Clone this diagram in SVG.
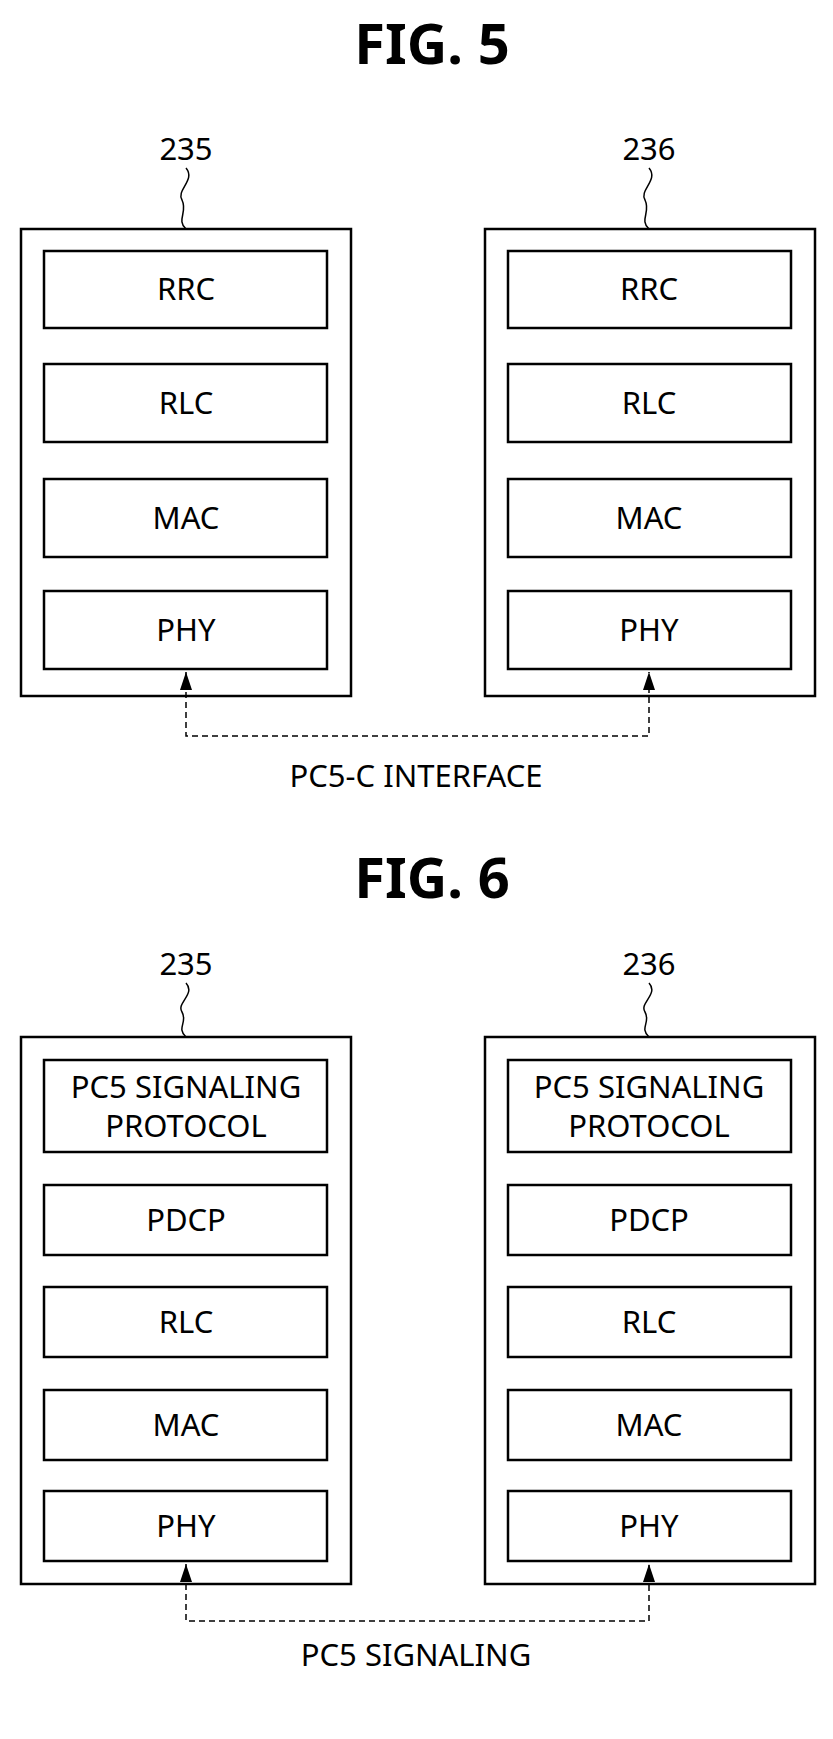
<svg xmlns="http://www.w3.org/2000/svg" width="833" height="1739" viewBox="0 0 833 1739">
<style>
.t{font-family:"Noto Sans","DejaVu Sans",sans-serif;font-size:31px;fill:#000;text-anchor:middle}
.ti{font-family:"Noto Sans","DejaVu Sans",sans-serif;font-size:56px;font-weight:bold;fill:#000;text-anchor:middle}
.b{fill:#fff;stroke:#000;stroke-width:2.5}
.d{fill:none;stroke:#000;stroke-width:1.5;stroke-dasharray:6,4}
.s{fill:none;stroke:#000;stroke-width:1.5}
</style>
<defs><marker id="a" markerWidth="18" markerHeight="12" refX="18" refY="6" orient="auto-start-reverse" markerUnits="userSpaceOnUse" viewBox="0 0 18 12"><path d="M0,0 L18,6 L0,12 Z" fill="#000"/></marker></defs>
<rect width="833" height="1739" fill="#fff"/>
<text class="ti" x="432" y="64">FIG. 5</text>
<g id="n235a">
<text class="t" x="186" y="160">235</text>
<path class="s" d="M186,168 C196,180 176,190 182,200 C188,212 176,220 186,229"/>
<rect class="b" x="21" y="229" width="330" height="467"/>
<rect class="b" x="44" y="251" width="283" height="77"/><text class="t" x="186" y="300">RRC</text>
<rect class="b" x="44" y="364" width="283" height="78"/><text class="t" x="186" y="414">RLC</text>
<rect class="b" x="44" y="479" width="283" height="78"/><text class="t" x="186" y="529">MAC</text>
<rect class="b" x="44" y="591" width="283" height="78"/><text class="t" x="186" y="641">PHY</text>
</g>
<g id="n236a">
<text class="t" x="649" y="160">236</text>
<path class="s" d="M649,168 C659,180 639,190 645,200 C651,212 639,220 649,229"/>
<rect class="b" x="485" y="229" width="330" height="467"/>
<rect class="b" x="508" y="251" width="283" height="77"/><text class="t" x="649" y="300">RRC</text>
<rect class="b" x="508" y="364" width="283" height="78"/><text class="t" x="649" y="414">RLC</text>
<rect class="b" x="508" y="479" width="283" height="78"/><text class="t" x="649" y="529">MAC</text>
<rect class="b" x="508" y="591" width="283" height="78"/><text class="t" x="649" y="641">PHY</text>
</g>
<g id="conn5">
<path class="d" d="M186,672 V736 H649 V672" marker-start="url(#a)" marker-end="url(#a)"/>
<text class="t" x="416" y="787">PC5-C INTERFACE</text>
</g>
<text class="ti" x="432" y="898">FIG. 6</text>
<g id="n235b">
<text class="t" x="186" y="975">235</text>
<path class="s" d="M186,983 C196,994 176,1003 182,1012 C188,1022 176,1028 186,1037"/>
<rect class="b" x="21" y="1037" width="330" height="547"/>
<rect class="b" x="44" y="1060" width="283" height="92"/><text class="t" x="186" y="1098">PC5 SIGNALING</text><text class="t" x="186" y="1137">PROTOCOL</text>
<rect class="b" x="44" y="1185" width="283" height="70"/><text class="t" x="186" y="1231">PDCP</text>
<rect class="b" x="44" y="1287" width="283" height="70"/><text class="t" x="186" y="1333">RLC</text>
<rect class="b" x="44" y="1390" width="283" height="70"/><text class="t" x="186" y="1436">MAC</text>
<rect class="b" x="44" y="1491" width="283" height="70"/><text class="t" x="186" y="1537">PHY</text>
</g>
<g id="n236b">
<text class="t" x="649" y="975">236</text>
<path class="s" d="M649,983 C659,994 639,1003 645,1012 C651,1022 639,1028 649,1037"/>
<rect class="b" x="485" y="1037" width="330" height="547"/>
<rect class="b" x="508" y="1060" width="283" height="92"/><text class="t" x="649" y="1098">PC5 SIGNALING</text><text class="t" x="649" y="1137">PROTOCOL</text>
<rect class="b" x="508" y="1185" width="283" height="70"/><text class="t" x="649" y="1231">PDCP</text>
<rect class="b" x="508" y="1287" width="283" height="70"/><text class="t" x="649" y="1333">RLC</text>
<rect class="b" x="508" y="1390" width="283" height="70"/><text class="t" x="649" y="1436">MAC</text>
<rect class="b" x="508" y="1491" width="283" height="70"/><text class="t" x="649" y="1537">PHY</text>
</g>
<g id="conn6">
<path class="d" d="M186,1564 V1621 H649 V1564" marker-start="url(#a)" marker-end="url(#a)"/>
<text class="t" x="416" y="1666">PC5 SIGNALING</text>
</g>
</svg>
